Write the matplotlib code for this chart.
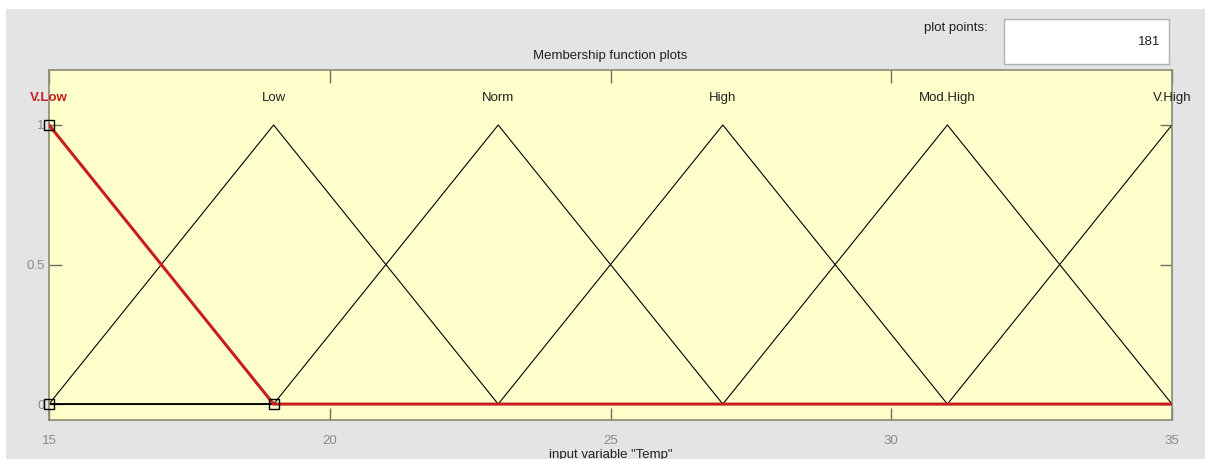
import matplotlib
matplotlib.use("Agg")
import matplotlib.pyplot as plt
from matplotlib.patches import Rectangle

plt.rcParams['font.family'] = ['Liberation Sans', 'DejaVu Sans']

# Membership functions (triangular): name, vertices over the range 15..35
mf_names = ["V.Low", "Low", "Norm", "High", "Mod.High", "V.High"]
mf_x = [
    [15, 19, 35],
    [15, 19, 23, 35],
    [15, 19, 23, 27, 35],
    [15, 23, 27, 31, 35],
    [15, 27, 31, 35],
    [15, 31, 35],
]
mf_y = [
    [1, 0, 0],
    [0, 1, 0, 0],
    [0, 0, 1, 0, 0],
    [0, 0, 1, 0, 0],
    [0, 0, 1, 0],
    [0, 0, 1],
]
mf_peak = [15, 19, 23, 27, 31, 35]
selected = 0
sel_vertices_x = [15, 15, 19]
sel_vertices_y = [1, 0, 0]
x_ticks = [15, 20, 25, 30, 35]
y_ticks = [0, 0.5, 1]
x_range = (15, 35)
plot_points = "181"

W, H = 1205, 459
fig = plt.figure(figsize=(W / 100, H / 100), dpi=100, facecolor="white")

# gray panel background
fig.patches.append(Rectangle((6 / W, 0), 1 - 6 / W, 1 - 9 / H, transform=fig.transFigure,
                             facecolor="#e4e4e4", edgecolor="none", zorder=-10))

ax = fig.add_axes([49 / W, 1 - 420 / H, (1172 - 49) / W, (420 - 70) / H])
ax.set_zorder(1)
ax.set_facecolor("#ffffcc")
ax.set_xlim(*x_range)
ax.set_ylim(-0.057, 1.197)

for i in range(len(mf_names)):
    if i == selected:
        continue
    ax.plot(mf_x[i], mf_y[i], color="black", lw=0.8, zorder=2)
ax.plot(mf_x[selected], mf_y[selected], color="#c81e1e", lw=2.2, zorder=3)
ax.plot(sel_vertices_x, sel_vertices_y, ls="none", marker="s", ms=7, mfc="none",
        mec="black", mew=1.0, zorder=4, clip_on=False)

for i, name in enumerate(mf_names):
    if i == selected:
        ax.text(mf_peak[i], 1.097, name, ha="center", va="center", fontsize=9.5,
                color="#c81e1e", fontweight="bold", clip_on=False)
    else:
        ax.text(mf_peak[i], 1.097, name, ha="center", va="center", fontsize=9.5,
                color="#202020", clip_on=False)

ax.set_xticks(x_ticks)
ax.set_yticks(y_ticks)
ax.set_yticklabels(["0", "0.5", "1"])
ax.tick_params(axis="both", direction="in", length=9, width=1, color="#707060",
               labelcolor="#8a8a8a", labelsize=9.5, top=True, right=True)
ax.tick_params(axis="x", pad=11)
ax.tick_params(axis="y", pad=3)
for sp in ax.spines.values():
    sp.set_color("#8a8a78")
    sp.set_linewidth(1.2)

ax.set_title("Membership function plots", fontsize=9.5, color="#202020", pad=8)
ax.set_xlabel('input variable "Temp"', fontsize=9.5, color="#202020", labelpad=1)

# plot points box
fig.patches.append(Rectangle((1004 / W, 1 - 64 / H), (1169 - 1004) / W, 45 / H,
                             transform=fig.transFigure, facecolor="white",
                             edgecolor="#b0b0b0", lw=1, zorder=1))
fig.text(988 / W, 1 - 28 / H, "plot points:", ha="right", va="center", fontsize=9.5,
         color="#202020")
fig.text(1160 / W, 1 - 42 / H, plot_points, ha="right", va="center", fontsize=9.5,
         color="#202020")

fig.savefig("out.png", dpi=100, facecolor=fig.get_facecolor())
